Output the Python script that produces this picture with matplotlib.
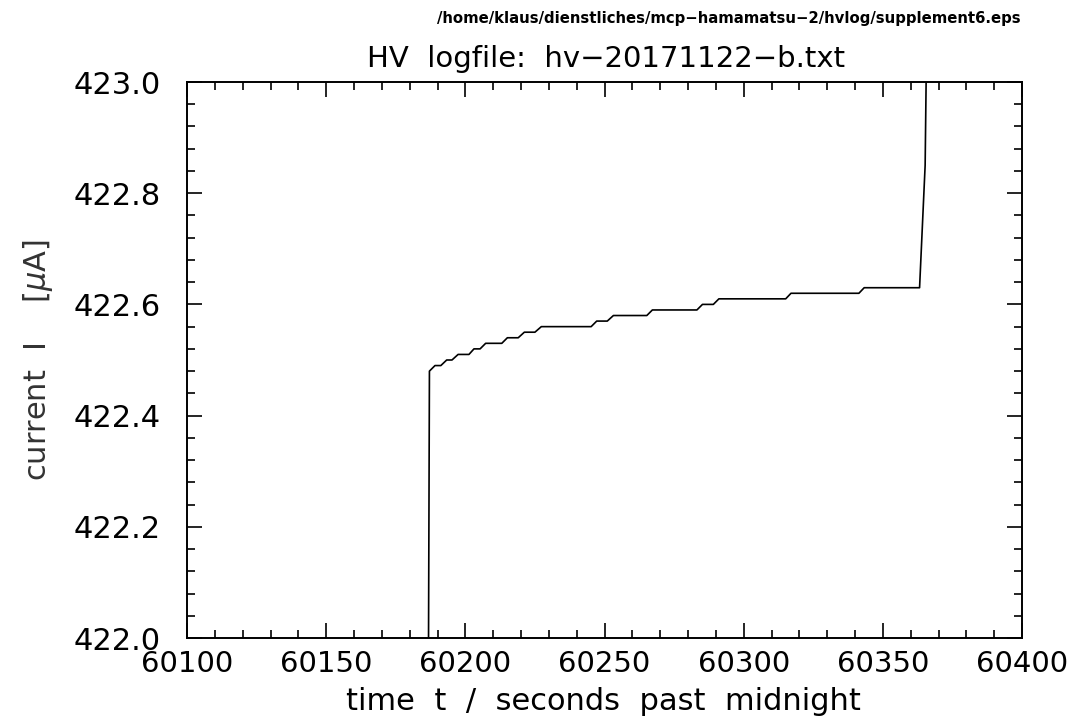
"""
HV logfile plot: current vs time (hv-20171122-b)
"""

import matplotlib
matplotlib.use('Agg')
import matplotlib.pyplot as plt
from matplotlib.ticker import MultipleLocator, AutoMinorLocator, FormatStrFormatter

# time samples (seconds past midnight) and measured current (uA)
time_s = [60185.1, 60187.1, 60189.1, 60191.2, 60193.3, 60195.2, 60197.4,
          60201.3, 60203.1, 60205.3, 60207.3, 60213.1, 60215.1, 60219.0,
          60221.2, 60225.0, 60227.3, 60245.2, 60247.2, 60251.0, 60253.2,
          60265.2, 60267.2, 60283.2, 60285.2, 60289.1, 60291.1, 60315.1,
          60317.0, 60341.4, 60343.3, 60363.2, 60365.2, 60367.2]
current_uA = [419.50, 422.48, 422.49, 422.49, 422.50, 422.50, 422.51,
              422.51, 422.52, 422.52, 422.53, 422.53, 422.54, 422.54,
              422.55, 422.55, 422.56, 422.56, 422.57, 422.57, 422.58,
              422.58, 422.59, 422.59, 422.60, 422.60, 422.61, 422.61,
              422.62, 422.62, 422.63, 422.63, 422.85, 423.70]

x_range = (60100, 60400)
y_range = (422.0, 423.0)

title = 'HV  logfile:  hv\u221220171122\u2212b.txt'
path_note = '/home/klaus/dienstliches/mcp\u2212hamamatsu\u22122/hvlog/supplement6.eps'

plt.rcParams['font.family'] = ['DejaVu Sans']

fig = plt.figure(figsize=(10.76, 7.26), dpi=100)
ax = fig.add_axes([187 / 1076, 88 / 726, 835 / 1076, 556 / 726])

ax.plot(time_s, current_uA, color='black', linewidth=1.2)

ax.set_xlim(*x_range)
ax.set_ylim(*y_range)

ax.xaxis.set_major_locator(MultipleLocator(50))
ax.xaxis.set_minor_locator(AutoMinorLocator(5))
ax.yaxis.set_major_locator(MultipleLocator(0.2))
ax.yaxis.set_minor_locator(AutoMinorLocator(5))
ax.yaxis.set_major_formatter(FormatStrFormatter('%.1f'))

ax.tick_params(which='both', direction='in', top=True, right=True, width=1.2)
ax.tick_params(which='major', length=11)
ax.tick_params(which='minor', length=5.5)
ax.tick_params(axis='x', which='major', labelsize=21, pad=9)
ax.tick_params(axis='y', which='major', labelsize=22, pad=19)
for sp in ax.spines.values():
    sp.set_linewidth(1.4)

fig.text(603 / 1076, 1 - 701 / 726, 'time  t  /  seconds  past  midnight',
         ha='center', va='center', fontsize=22)
fig.text(38 / 1076, 1 - 360 / 726, 'current  I    [$\\mu$A]', rotation=90,
         ha='center', va='center', fontsize=22, color='#333333')
fig.text(606 / 1076, 1 - 59 / 726, title, ha='center', va='center', fontsize=21)
fig.text(1021 / 1076, 1 - 18 / 726, path_note, ha='right', va='center',
         fontsize=10.7, fontweight='bold')

fig.savefig('out.png', dpi=100)
